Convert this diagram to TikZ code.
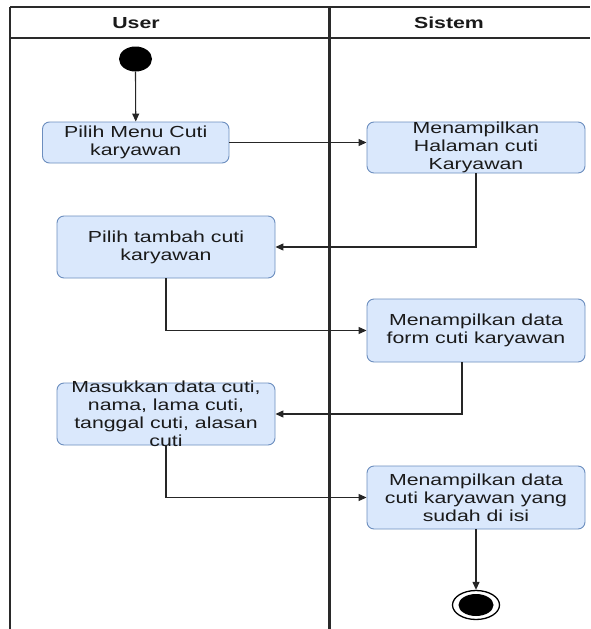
\documentclass[tikz,border=0pt]{standalone}
\usepackage{fontspec}
\setmainfont{Liberation Sans}[FakeStretch=1.33]
\usetikzlibrary{arrows.meta,shapes.geometric}
\definecolor{boxfill}{HTML}{DAE8FC}
\definecolor{boxline}{HTML}{6C8EBF}
\definecolor{ink}{HTML}{1A1A1A}
\definecolor{laneink}{HTML}{2A2A2A}
\begin{document}
\begin{tikzpicture}[x=1pt,y=-1pt,
  lane/.style={draw=laneink, line width=2.4pt},
  lanetop/.style={draw=laneink, line width=1.4pt},
  actbox/.style={draw=boxline, fill=boxfill, rounded corners=7pt, line width=0.9pt, inner sep=0pt},
  lbl/.style={font=\fontsize{16}{18}\selectfont, text=ink, align=center, inner sep=0pt},
  hdr/.style={font=\fontsize{16}{18}\selectfont\bfseries, text=ink, inner sep=0pt},
  flow/.style={draw=black!85, line width=1.1pt, -{Triangle[length=8pt,width=7pt]}}]
\useasboundingbox (0,0) rectangle (590,629);
\fill[white] (0,0) rectangle (590,629);
% swimlane frame
\draw[lanetop] (10,7) -- (590,7);
\draw[lane] (10,38) -- (590,38);
\draw[lane] (10,7) -- (10,629);
\draw[lane] (329.5,7) -- (329.5,629);
\node[hdr] (hu) at (136,23) {User};
\node[hdr] (hs) at (449,23) {Sistem};
% start / end
\node[ellipse, fill=black, minimum width=33, minimum height=25, inner sep=0pt] (start) at (135.5,59) {};
\node[ellipse, draw=black, line width=1.3pt, fill=white, minimum width=47, minimum height=29, inner sep=0pt] (end) at (476,605) {};
\node[ellipse, fill=black, minimum width=35, minimum height=22, inner sep=0pt] (endin) at (end.center) {};
% activities
\node[actbox, minimum width=186.5, minimum height=41] (b1) at (135.75,142.5) {};
\node[lbl] (t1) at (b1.center) {Pilih Menu Cuti\\karyawan};
\node[actbox, minimum width=218, minimum height=51] (b2) at (476,147.5) {};
\node[lbl] (t2) at (b2.center) {Menampilkan\\Halaman cuti\\Karyawan};
\node[actbox, minimum width=218, minimum height=62] (b3) at (166,247) {};
\node[lbl] (t3) at (b3.center) {Pilih tambah cuti\\karyawan};
\node[actbox, minimum width=218, minimum height=63] (b4) at (476,330.5) {};
\node[lbl] (t4) at (b4.center) {Menampilkan data\\form cuti karyawan};
\node[actbox, minimum width=218, minimum height=62] (b5) at (166,414) {};
\node[lbl] (t5) at (b5.center) {Masukkan data cuti,\\nama, lama cuti,\\tanggal cuti, alasan\\cuti};
\node[actbox, minimum width=218, minimum height=63] (b6) at (476,497.5) {};
\node[lbl] (t6) at (b6.center) {Menampilkan data\\cuti karyawan yang\\sudah di isi};
% flows
\draw[flow] (start.south) -- (b1.north);
\draw[flow] (b1.east) -- (b1.east -| b2.west);
\draw[flow] (b2.south) |- (b3.east);
\draw[flow] (b3.south) |- (b4.west);
\draw[flow] ([xshift=-14pt]b4.south) |- (b5.east);
\draw[flow] (b5.south) |- (b6.west);
\draw[flow] (b6.south) -- (end.north);
\end{tikzpicture}
\end{document}
